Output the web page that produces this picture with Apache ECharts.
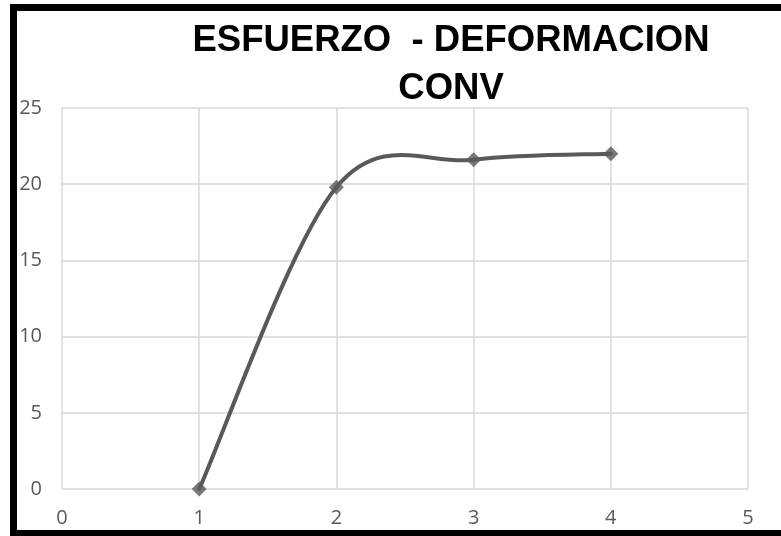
<!DOCTYPE html>
<html>
<head>
<meta charset="utf-8">
<script src="https://cdn.jsdelivr.net/npm/echarts@6/dist/echarts.min.js"></script>
<style>
  html, body { margin: 0; padding: 0; background: #fff; }
  #chart { width: 781px; height: 536px; }
</style>
</head>
<body>
<div id="chart"></div>
<script>
// Stress–strain curve (conventional)
const chartTitle = 'ESFUERZO  - DEFORMACION\nCONV';
const deformacion = [1, 2, 3, 4];
const esfuerzo = [0, 19.8, 21.6, 22.0];
const xTicks = [0, 5, 1];   // min, max, step
const yTicks = [0, 25, 5];

const points = deformacion.map((x, i) => [x, esfuerzo[i]]);
const lineColor = '#595959';

const chart = echarts.init(document.getElementById('chart'), null, { renderer: 'canvas' });

const axisText = { color: '#595959', fontSize: 20, fontFamily: 'Open Sans' };
const gridLine = { lineStyle: { color: '#d9d9d9', width: 1.5 } };

// Smoothed segment between point i and i+1 (Catmull-Rom tangents, in pixel space)
function renderSegment(params, api) {
  const i = params.dataIndex;
  if (i >= points.length - 1) return null;
  const px = points.map(p => api.coord(p));
  const p0 = px[Math.max(i - 1, 0)];
  const p1 = px[i];
  const p2 = px[i + 1];
  const p3 = px[Math.min(i + 2, px.length - 1)];
  const k = 1 / 6;
  return {
    type: 'bezierCurve',
    shape: {
      x1: p1[0], y1: p1[1],
      cpx1: p1[0] + (p2[0] - p0[0]) * k, cpy1: p1[1] + (p2[1] - p0[1]) * k,
      cpx2: p2[0] - (p3[0] - p1[0]) * k, cpy2: p2[1] - (p3[1] - p1[1]) * k,
      x2: p2[0], y2: p2[1]
    },
    style: { stroke: lineColor, lineWidth: 4, fill: null, lineCap: 'round' },
    silent: true
  };
}

chart.setOption({
  animation: false,
  backgroundColor: '#fff',
  title: {
    text: chartTitle,
    left: 446,
    top: 12,
    textAlign: 'center',
    textStyle: {
      fontFamily: 'Liberation Sans',
      fontWeight: 'bold',
      fontSize: 36.5,
      color: '#000',
      lineHeight: 48
    }
  },
  grid: { left: 62, right: 33, top: 108, bottom: 47 },
  xAxis: {
    type: 'value',
    min: xTicks[0], max: xTicks[1], interval: xTicks[2],
    axisLine: { show: false },
    axisTick: { show: false },
    splitLine: Object.assign({ show: true }, gridLine),
    axisLabel: Object.assign({ margin: 19 }, axisText)
  },
  yAxis: {
    type: 'value',
    min: yTicks[0], max: yTicks[1], interval: yTicks[2],
    axisLine: { show: false },
    axisTick: { show: false },
    splitLine: Object.assign({ show: true }, gridLine),
    axisLabel: Object.assign({ margin: 20 }, axisText)
  },
  series: [{
    type: 'custom',
    renderItem: renderSegment,
    data: points,
    z: 2
  }, {
    type: 'scatter',
    data: points,
    symbol: 'diamond',
    symbolSize: 15,
    itemStyle: { color: lineColor },
    z: 3
  }],
  graphic: [{
    type: 'polyline',
    shape: { points: [[800, 7.5], [13.5, 7.5], [13.5, 533.5], [800, 533.5]] },
    style: { stroke: '#000', lineWidth: 7, fill: null },
    silent: true
  }]
});
</script>
</body>
</html>
